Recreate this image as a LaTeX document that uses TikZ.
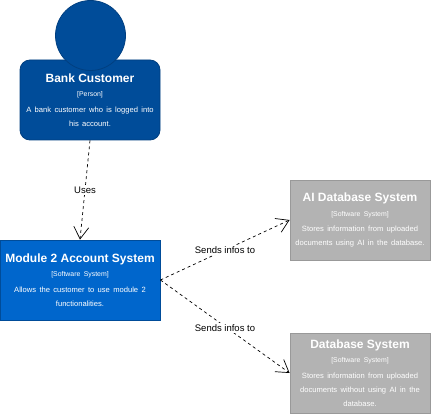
\documentclass[tikz,border=0pt]{standalone}
\usepackage{fontspec}
\setmainfont{Liberation Sans}
\usetikzlibrary{arrows.meta}
\definecolor{personfill}{HTML}{004C99}
\definecolor{personline}{HTML}{003F80}
\definecolor{modfill}{HTML}{0066CC}
\definecolor{grayfill}{HTML}{B3B3B3}
\definecolor{grayline}{HTML}{999999}
\newcommand{\boxtext}[3]{%
  {\fontsize{12}{14}\selectfont\bfseries #1\par}%
  \vspace{4.5pt}%
  {\fontsize{6.9}{10}\selectfont [#2]\par}%
  \vspace{1.5pt}%
  {\fontsize{7.6}{14}\selectfont #3\par}}
\tikzset{
  x=1pt,y=-1pt,
  c4box/.style={draw,line width=0.8pt,text=white,minimum width=140pt,minimum height=80pt,
    inner sep=0pt,text width=#1,align=center},
  c4box/.default=136pt,
  person/.style={c4box,fill=personfill,draw=personline,rounded corners=10pt},
  head/.style={circle,fill=personfill,draw=personline,line width=0.8pt,minimum size=70pt,inner sep=0pt},
  module/.style={c4box=156pt,minimum width=160pt,fill=modfill,draw=personfill},
  external/.style={c4box,fill=grayfill,draw=grayline},
  rel/.style={draw=black,line width=0.7pt,dash pattern=on 3pt off 3pt,
    -{Straight Barb[length=12pt,width=15pt,line width=0.7pt]}},
  rellabel/.style={fill=white,inner sep=1.5pt,font=\fontsize{9.5}{11}\selectfont,text=black}
}
\begin{document}
\begin{tikzpicture}
\useasboundingbox (0,0) rectangle (431,414);
\node[person] (customer) at (90,100) {\boxtext{Bank Customer}{Person}{A bank customer who is logged into\\his account.}};
\node[head] (headc) at (90.5,35.5) {};
\node[module] (mod) at (80,280) {\boxtext{Module 2 Account System}{Software System}{Allows the customer to use module 2\\functionalities.}};
\node[external] (ai) at (360,220) {\boxtext{AI Database System}{Software System}{Stores information from uploaded\\documents using AI in the database.}};
\node[external] (db) at (360,373) {\boxtext{Database System}{Software System}{Stores information from uploaded\\documents without using AI in the\\database.}};
\draw[rel] (customer.south) -- node[rellabel,pos=0.5] (l0) {Uses} (mod.north);
\draw[rel] (mod.east) -- node[rellabel,pos=0.5] (l1) {Sends infos to} (ai.west);
\draw[rel] (mod.east) -- node[rellabel,pos=0.5,yshift=-1.5pt] (l2) {Sends infos to} (db.west);
\end{tikzpicture}
\end{document}
